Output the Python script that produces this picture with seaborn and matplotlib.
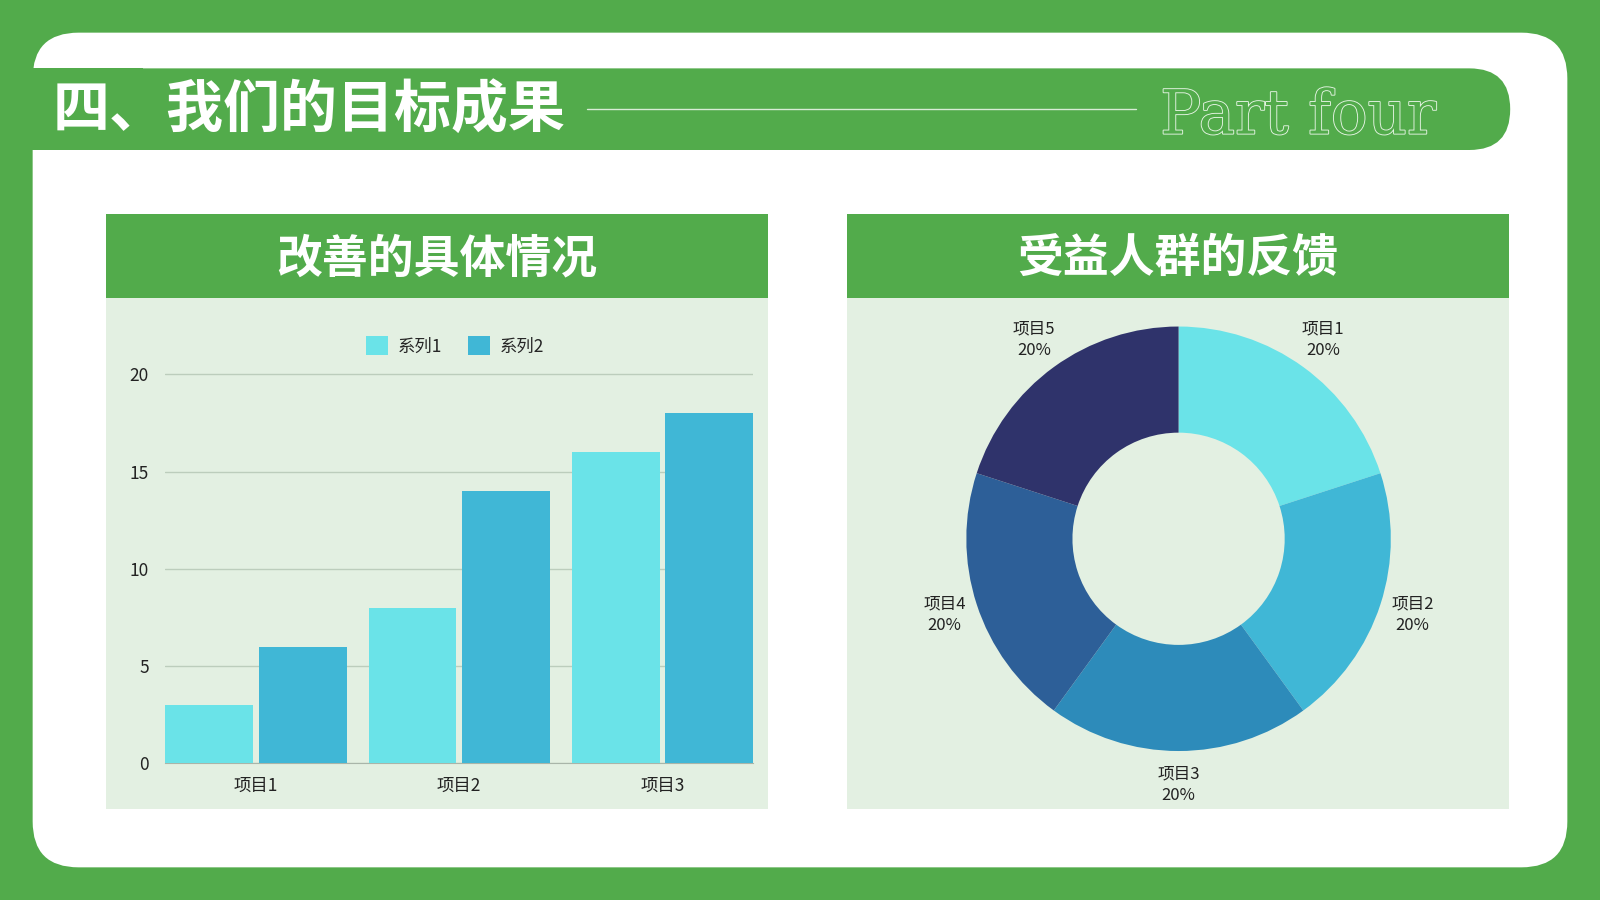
import pandas as pd
import seaborn as sns
import matplotlib.pyplot as plt
from matplotlib.patches import FancyBboxPatch, Rectangle
import matplotlib.patheffects as pe

# data
categories = ['项目1', '项目2', '项目3']
series_names = ['系列1', '系列2']
series1 = [3, 8, 16]
series2 = [6, 14, 18]
pie_labels = ['项目1', '项目2', '项目3', '项目4', '项目5']
pie_values = [20, 20, 20, 20, 20]

GREEN = '#52AB4B'
PANEL = '#E3F0E2'
bar_colors = ['#6AE3E8', '#40B7D6']
pie_colors = ['#6AE3E8', '#40B7D6', '#2D8BBA', '#2D5F98', '#2F336B']

sns.set_style('white')
plt.rcParams['font.family'] = ['Noto Sans CJK SC', 'DejaVu Sans']

W, H = 1568, 882  # layout units (reference pixels)
fig = plt.figure(figsize=(16, 9), dpi=100, facecolor=GREEN)


def fx(x):
    return x / W


def fy(y):
    return 1 - y / H


# background drawn in layout units
bg = fig.add_axes([0, 0, 1, 1])
bg.set_xlim(0, W)
bg.set_ylim(H, 0)
bg.axis('off')

bg.add_patch(FancyBboxPatch((32, 32), 1504, 818, boxstyle='round,pad=0,rounding_size=45',
                            fc='white', ec='none'))
bg.add_patch(FancyBboxPatch((32, 67), 1448, 80, boxstyle='round,pad=0,rounding_size=40',
                            fc=GREEN, ec='none', lw=0))
bg.add_patch(Rectangle((20, 67), 120, 80, fc=GREEN, ec='none', lw=0))
bg.text(52, 108, '四、我们的目标成果', color='white', fontsize=41, fontweight='bold',
        ha='left', va='center')
bg.plot([575, 1113], [107, 107], color='#d8ecd6', lw=1)
bg.text(1137, 131, 'Part four', family='DejaVu Serif', fontsize=44, color=GREEN,
        ha='left', va='baseline',
        path_effects=[pe.Stroke(linewidth=1.3, foreground='#e6f4e4'), pe.Normal()])

for x0, title in [(104, '改善的具体情况'), (830, '受益人群的反馈')]:
    bg.add_patch(Rectangle((x0, 210), 649, 82, fc=GREEN, ec='none', lw=0))
    bg.add_patch(Rectangle((x0, 292), 649, 501, fc=PANEL, ec='none', lw=0))
    bg.text(x0 + 324.5, 254, title, color='white', fontsize=33, fontweight='bold',
            ha='center', va='center')

# bar chart
df = pd.DataFrame({
    '项目': categories * 2,
    '系列': [series_names[0]] * 3 + [series_names[1]] * 3,
    '值': series1 + series2,
})
y_top = 748 - 20.2 * (748 - 367) / 20
ax = fig.add_axes([fx(162), fy(748), fx(738) - fx(162), fy(y_top) - fy(748)])
ax.set_facecolor('none')
sns.barplot(data=df, x='项目', y='值', hue='系列', palette=bar_colors, width=0.92, gap=0.06,
            saturation=1, linewidth=0, edgecolor='none', ax=ax, zorder=3)
ax.set_xlim(-0.4462, 2.4462)
ax.set_ylim(0, 20.2)
ax.set_yticks([0, 5, 10, 15, 20])
ax.set_xlabel('')
ax.set_ylabel('')
ax.yaxis.grid(True, color='#bccdbc', lw=1)
ax.set_axisbelow(True)
for s in ['top', 'left', 'right']:
    ax.spines[s].set_visible(False)
ax.spines['bottom'].set_color('#a9b5a9')
ax.tick_params(axis='both', length=0, labelsize=12.5, labelcolor='#222222')
ax.tick_params(axis='y', pad=12)
ax.tick_params(axis='x', pad=10)
sns.move_legend(ax, loc='center', bbox_to_anchor=(0.493, 1.063), ncol=2, frameon=False,
                title=None, fontsize=12.5, handlelength=1.25, handleheight=1.25,
                handletextpad=0.55, columnspacing=1.5)

# donut
R = 208
k = 1.4
side = 2 * R * k
cx, cy = 1155, 528
pax = fig.add_axes([fx(cx - side / 2), fy(cy + side / 2), side / W, side / H])
pax.set_facecolor('none')
total = sum(pie_values)
texts_lbl = [f'{n}\n{v / total * 100:.0f}%' for n, v in zip(pie_labels, pie_values)]
wedges, texts = pax.pie(pie_values, colors=pie_colors, startangle=90, counterclock=False,
                        radius=1, labels=texts_lbl, labeldistance=1.16,
                        wedgeprops=dict(width=0.5, linewidth=0),
                        textprops=dict(fontsize=12, color='#222222', linespacing=1.35))
for t in texts:
    t.set_ha('center')
    t.set_va('center')
pax.set_xlim(-k, k)
pax.set_ylim(-k, k)
pax.set_aspect('equal')
pax.axis('off')

fig.savefig('out.png', dpi=100, facecolor=GREEN)
